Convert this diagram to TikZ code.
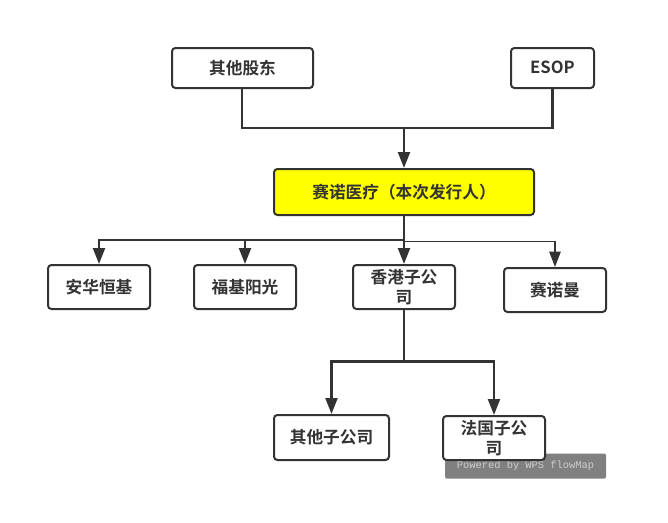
\documentclass[tikz,border=0pt]{standalone}
\usepackage{fontspec}
\setmainfont{Noto Sans CJK SC}[BoldFont={Noto Sans CJK SC Bold}]
\newfontfamily\wmfont{Liberation Mono}
\usetikzlibrary{arrows.meta}
\definecolor{ink}{HTML}{333333}
\definecolor{hilite}{RGB}{255,255,0}
\definecolor{wmgrey}{RGB}{128,128,128}
\definecolor{wmtext}{RGB}{205,205,205}
\newcommand{\liftone}[1]{\raisebox{0.75pt}{#1}}
\newcommand{\lifttwo}[1]{\raisebox{1.5pt}{#1}}
\tikzset{
  boxa/.style={draw=ink,line width=1.5pt,rounded corners=2.6pt,fill=white,inner sep=0pt,align=center,
    font=\fontsize{12.5pt}{15pt}\selectfont\bfseries,text=ink},
  link/.style={draw=ink,line width=1.6pt},
  arrowlink/.style={link,-{Triangle[length=12pt,width=9pt]}},
  thinlink/.style={draw=ink,line width=1.2pt},
  thinarrow/.style={thinlink,-{Triangle[length=11.5pt,width=8.5pt]}}
}
\begin{document}
\begin{tikzpicture}[x=0.75pt,y=-0.75pt]
\useasboundingbox (0,0) rectangle (668,522);
\fill[white] (0,0) rectangle (668,522);
\node[fill=wmgrey,rounded corners=1pt,minimum width=120.75pt,minimum height=18.75pt,inner sep=0pt,
  font=\wmfont\fontsize{7.8pt}{9pt}\selectfont,text=wmtext] (wm) at (525.5,466) {\raisebox{-0.75pt}{Powered by WPS flowMap}};
\node[boxa,minimum width=105.75pt,minimum height=30pt] (holders) at (242.5,68) {\liftone{其他股东}};
\node[boxa,minimum width=62.25pt,minimum height=30pt] (esop) at (552.5,68) {\liftone{ESOP}};
\node[boxa,fill=hilite,minimum width=195pt,minimum height=34.5pt] (main) at (404,192) {\liftone{赛诺医疗（本次发行人）}};
\node[boxa,minimum width=76.5pt,minimum height=33pt] (anhua) at (99,287) {\liftone{安华恒基}};
\node[boxa,minimum width=76.5pt,minimum height=33pt] (fuji) at (245,287) {\liftone{福基阳光}};
\node[boxa,minimum width=76.5pt,minimum height=33pt] (hk) at (404,287) {\lifttwo{香港子公}\\\lifttwo{司}};
\node[boxa,minimum width=76.5pt,minimum height=33pt] (sino) at (555,290) {\liftone{赛诺曼}};
\node[boxa,minimum width=86.25pt,minimum height=33.75pt] (other) at (331.5,437.5) {\liftone{其他子公司}};
\node[boxa,minimum width=76.5pt,minimum height=33pt] (fr) at (494,438) {\lifttwo{法国子公}\\\lifttwo{司}};
\coordinate (top) at (404,128);
\coordinate (midA) at (404,240);
\coordinate (midB) at (404,241.5);
\coordinate (low) at (404,361.5);
\coordinate (holdersdrop) at (242,88);
\draw[link] (holdersdrop) |- (top);
\draw[link] (esop.south) |- (top);
\draw[arrowlink] (top) -- (main.north);
\draw[link] (main.south) -- (midA);
\draw[arrowlink] (midA) -| (anhua.north);
\draw[arrowlink] (midA) -| (fuji.north);
\draw[arrowlink] (midA) -- (hk.north);
\draw[thinarrow] (midB) -| (sino.north);
\draw[link] (hk.south) -- (low);
\draw[arrowlink] (low) -| (other.north);
\draw[arrowlink] (low) -| (fr.north);
\end{tikzpicture}
\end{document}
